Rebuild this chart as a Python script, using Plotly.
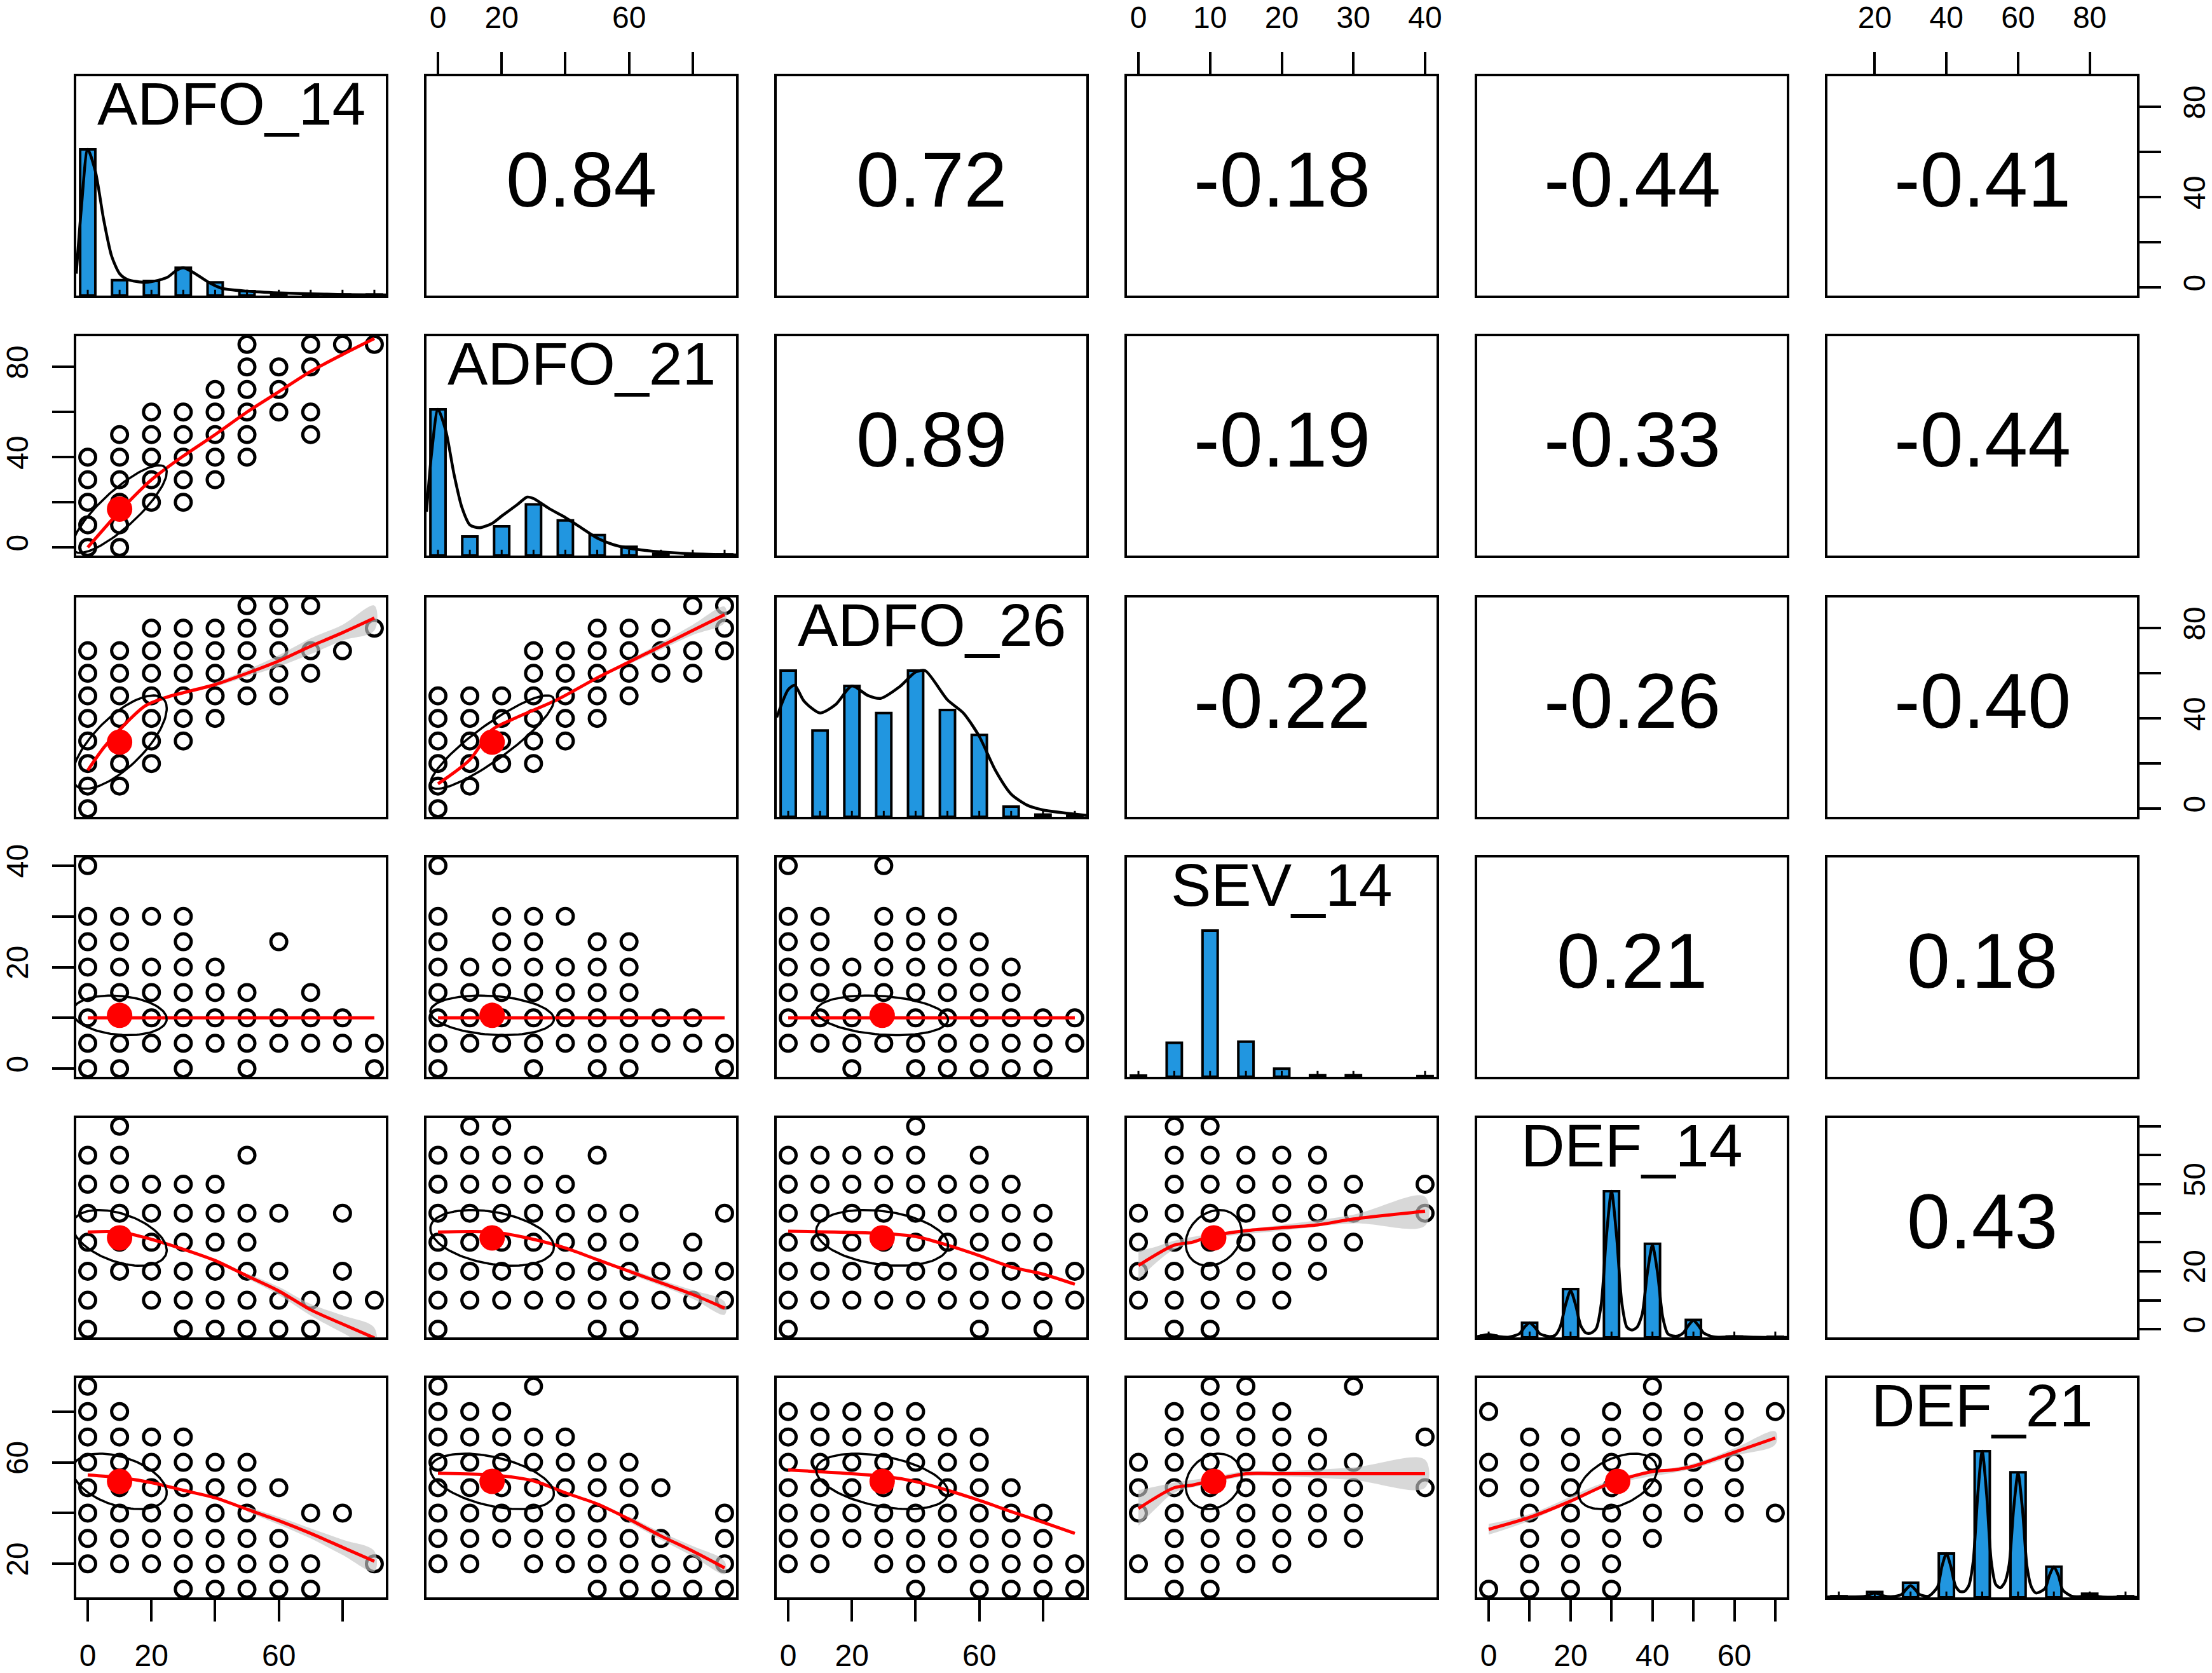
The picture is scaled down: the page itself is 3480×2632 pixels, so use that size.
import numpy as np
import plotly.graph_objects as go

# ---------------- data ----------------
VARS = ["ADFO_14", "ADFO_21", "ADFO_26", "SEV_14", "DEF_14", "DEF_21"]
VAR_MIN = [0, 0, 0, 0, 0, 10]
VAR_MAX = [90, 90, 90, 40, 70, 90]
MEANS = [10.0, 17.0, 29.5, 10.5, 31.5, 52.5]
SDS = [14.8, 19.4, 20.7, 3.9, 9.6, 10.9]

COR_ROW1 = [0.84, 0.72, -0.18, -0.44, -0.41]
COR_ROW2 = [0.89, -0.19, -0.33, -0.44]
COR_ROW3 = [-0.22, -0.26, -0.40]
COR_ROW4 = [0.21, 0.18]
COR_ROW5 = [0.43]

# axis ticks (values, labels); empty label = tick without label
TICKS_X = {
    0: ([0, 20, 40, 60, 80], ["0", "20", "", "60", ""]),
    1: ([0, 20, 40, 60, 80], ["0", "20", "", "60", ""]),
    2: ([0, 20, 40, 60, 80], ["0", "20", "", "60", ""]),
    3: ([0, 10, 20, 30, 40], ["0", "10", "20", "30", "40"]),
    4: ([0, 10, 20, 30, 40, 50, 60, 70], ["0", "", "20", "", "40", "", "60", ""]),
    5: ([20, 40, 60, 80], ["20", "40", "60", "80"]),
}
TICKS_Y = {
    0: ([0, 20, 40, 60, 80], ["0", "", "40", "", "80"]),
    1: ([0, 20, 40, 60, 80], ["0", "", "40", "", "80"]),
    2: ([0, 20, 40, 60, 80], ["0", "", "40", "", "80"]),
    3: ([0, 10, 20, 30, 40], ["0", "", "20", "", "40"]),
    4: ([0, 10, 20, 30, 40, 50, 60, 70], ["0", "", "20", "", "", "50", "", ""]),
    5: ([20, 40, 60, 80], ["20", "", "60", ""]),
}

# histograms (bar heights relative to tallest bar)
HIST_X_ADFO_14 = [0, 10, 20, 30, 40, 50, 60, 70, 80, 90]
HIST_H_ADFO_14 = [1.0, 0.105, 0.10, 0.19, 0.09, 0.03, 0.012, 0.007, 0.007, 0.007]
HIST_X_ADFO_21 = [0, 10, 20, 30, 40, 50, 60, 70, 80, 90]
HIST_H_ADFO_21 = [1.0, 0.13, 0.2, 0.35, 0.24, 0.14, 0.06, 0.012, 0.008, 0.008]
HIST_X_ADFO_26 = [0, 10, 20, 30, 40, 50, 60, 70, 80, 90]
HIST_H_ADFO_26 = [1.0, 0.59, 0.895, 0.71, 1.0, 0.73, 0.56, 0.07, 0.015, 0.008]
HIST_X_SEV_14 = [0, 5, 10, 15, 20, 25, 30, 40]
HIST_H_SEV_14 = [0.008, 0.233, 1.0, 0.24, 0.055, 0.01, 0.01, 0.005]
HIST_X_DEF_14 = [0, 10, 20, 30, 40, 50, 60, 70]
HIST_H_DEF_14 = [0.012, 0.1, 0.33, 1.0, 0.64, 0.12, 0.006, 0.004]
HIST_X_DEF_21 = [10, 20, 30, 40, 50, 60, 70, 80, 90]
HIST_H_DEF_21 = [0.008, 0.037, 0.1, 0.3, 1.0, 0.855, 0.21, 0.025, 0.008]

# density curves (relative to max)
DENS_X_ADFO_14 = [-3.6, -2, 0, 2.4, 5, 7.5, 10, 12.5, 18, 20, 25, 27.7, 30, 33, 38, 42, 50, 60, 70, 80, 93.6]
DENS_Y_ADFO_14 = [0.15, 0.6, 1.0, 0.85, 0.52, 0.27, 0.15, 0.11, 0.09, 0.095, 0.125, 0.17, 0.19, 0.16, 0.09, 0.05, 0.03, 0.018, 0.012, 0.007, 0.004]
DENS_X_ADFO_21 = [-3.6, -2, 0, 2.5, 5, 7.5, 10, 13, 17, 20, 25, 28, 30, 35, 40, 45, 50, 55, 60, 70, 80, 93.6]
DENS_Y_ADFO_21 = [0.3, 0.7, 1.0, 0.85, 0.56, 0.33, 0.21, 0.19, 0.22, 0.27, 0.35, 0.4, 0.39, 0.32, 0.26, 0.19, 0.12, 0.075, 0.05, 0.025, 0.012, 0.004]
DENS_X_ADFO_26 = [-3.6, 0, 2, 5, 10, 15, 20, 25, 29, 35, 40, 43, 50, 55, 60, 65, 70, 75, 80, 93.6]
DENS_Y_ADFO_26 = [0.68, 0.87, 0.9, 0.79, 0.71, 0.77, 0.895, 0.83, 0.81, 0.89, 0.99, 1.0, 0.8, 0.71, 0.55, 0.32, 0.155, 0.08, 0.047, 0.01]
DENS_X_DEF_14 = [-2.8, 0, 1.25, 2.5, 5, 7.5, 8.75, 10, 11.25, 12.5, 15, 16.25, 17.5, 18.75, 20, 21.25, 22.5, 23.75,
                 25, 26.25, 27.5, 28.75, 30, 31.25, 32.5, 33.75, 35, 36.25, 37.5, 38.75, 40, 41.25, 42.5, 43.75,
                 45, 46.25, 47.5, 48.75, 50, 51.25, 52.5, 55, 60, 65, 72.8]
DENS_Y_DEF_14 = [0.005, 0.02, 0.014, 0.006, 0.002, 0.025, 0.07, 0.1, 0.07, 0.025, 0.005, 0.015, 0.075, 0.22, 0.32, 0.22, 0.08, 0.03,
                 0.03, 0.06, 0.23, 0.69, 1.0, 0.69, 0.24, 0.07, 0.05, 0.07, 0.16, 0.44, 0.63, 0.44, 0.14, 0.025,
                 0.01, 0.01, 0.03, 0.08, 0.115, 0.08, 0.03, 0.003, 0.005, 0.001, 0.0]
DENS_X_DEF_21 = [6.8, 10, 12.5, 17.5, 20, 22.5, 25, 27.5, 28.75, 30, 31.25, 32.5, 35, 37.5, 38.75, 40, 41.25, 42.5, 43.75,
                 45, 46.25, 47.5, 48.75, 50, 51.25, 52.5, 53.75, 55, 56.25, 57.5, 58.75, 60, 61.25, 62.5, 63.75,
                 65, 67.5, 68.75, 70, 71.25, 72.5, 75, 77.5, 80, 82.5, 85, 90, 93.2]
DENS_Y_DEF_21 = [0.002, 0.006, 0.003, 0.008, 0.03, 0.01, 0.005, 0.02, 0.055, 0.08, 0.055, 0.02, 0.008, 0.07, 0.21, 0.3, 0.21, 0.08, 0.04,
                 0.04, 0.08, 0.25, 0.7, 1.0, 0.7, 0.25, 0.09, 0.065, 0.1, 0.22, 0.6, 0.85, 0.6, 0.21, 0.07,
                 0.03, 0.06, 0.15, 0.21, 0.15, 0.05, 0.008, 0.006, 0.02, 0.006, 0.001, 0.003, 0.0]

# scatter points: {y value: [x values]}
PTS_21 = {0: [0, 10], 10: [0, 10], 20: [0, 10, 20, 30], 30: [0, 10, 20, 30, 40], 40: [0, 10, 20, 30, 40, 50],
          50: [10, 20, 30, 40, 50, 70], 60: [20, 30, 40, 50, 60, 70], 70: [40, 50, 60], 80: [50, 60, 70], 90: [50, 70, 80, 90]}
PTS_31 = {0: [0], 10: [0, 10], 20: [0, 10, 20], 30: [0, 10, 20, 30], 40: [0, 10, 20, 30, 40],
          50: [0, 10, 20, 30, 40, 50, 60], 60: [0, 10, 20, 30, 40, 50, 60, 70], 70: [0, 10, 20, 30, 40, 50, 60, 70, 80],
          80: [20, 30, 40, 50, 60, 90], 90: [50, 60, 70]}
PTS_32 = {0: [0], 10: [0, 10], 20: [0, 10, 20, 30], 30: [0, 10, 20, 30, 40], 40: [0, 10, 20, 30, 40, 50],
          50: [0, 10, 20, 30, 40, 50, 60], 60: [30, 40, 50, 60, 70, 80], 70: [30, 40, 50, 60, 70, 80, 90],
          80: [50, 60, 70, 90], 90: [80, 90]}
PTS_41 = {0: [0, 10, 30, 50, 90], 5: [0, 10, 20, 30, 40, 50, 60, 70, 80, 90], 10: [0, 10, 20, 30, 40, 50, 60, 70, 80],
          15: [0, 10, 20, 30, 40, 50, 70], 20: [0, 10, 20, 30, 40], 25: [0, 10, 30, 60], 30: [0, 10, 20, 30], 40: [0]}
PTS_42 = {0: [0, 30, 50, 60, 90], 5: [0, 10, 20, 30, 40, 50, 60, 70, 80, 90], 10: [0, 10, 20, 30, 40, 50, 60, 70, 80],
          15: [0, 10, 20, 30, 40, 50, 60], 20: [0, 10, 20, 30, 40, 50, 60], 25: [0, 20, 30, 50, 60], 30: [0, 20, 30, 40], 40: [0]}
PTS_43 = {0: [20, 40, 50, 60, 70, 80], 5: [0, 10, 20, 30, 40, 50, 60, 70, 80, 90], 10: [0, 10, 20, 30, 40, 50, 60, 70, 80, 90],
          15: [0, 10, 20, 30, 40, 50, 60, 70], 20: [0, 10, 20, 30, 40, 50, 60, 70], 25: [0, 10, 30, 40, 50, 60],
          30: [0, 10, 30, 40, 50], 40: [0, 30]}
PTS_51 = {0: [0, 30, 40, 50, 60, 70], 10: [0, 20, 30, 40, 50, 60, 70, 80, 90], 20: [0, 10, 20, 30, 40, 50, 60, 80],
          30: [0, 10, 20, 30, 40, 50], 40: [0, 10, 20, 30, 40, 50, 60, 80], 50: [0, 10, 20, 30, 40], 60: [0, 10, 50], 70: [10]}
PTS_52 = {0: [0, 50, 60], 10: [0, 10, 20, 30, 40, 50, 60, 70, 80, 90], 20: [0, 10, 20, 30, 40, 50, 60, 70, 80, 90],
          30: [0, 10, 20, 30, 40, 50, 60, 80], 40: [0, 10, 20, 30, 40, 50, 60, 90], 50: [0, 10, 20, 30, 40],
          60: [0, 10, 20, 30, 50], 70: [10, 20]}
PTS_53 = {0: [0, 60, 80], 10: [0, 10, 20, 30, 40, 50, 60, 70, 80, 90], 20: [0, 10, 20, 30, 40, 50, 60, 70, 80, 90],
          30: [0, 10, 20, 30, 40, 50, 60, 70, 80], 40: [0, 10, 20, 30, 40, 50, 60, 70, 80],
          50: [0, 10, 20, 30, 40, 50, 60, 70], 60: [0, 10, 20, 30, 40, 60], 70: [40]}
PTS_54 = {0: [5, 10], 10: [0, 5, 10, 15, 20], 20: [0, 5, 10, 15, 20, 25], 30: [0, 5, 10, 15, 20, 25, 30],
          40: [0, 5, 10, 15, 20, 25, 30, 40], 50: [5, 10, 15, 20, 25, 30, 40], 60: [5, 10, 15, 20, 25], 70: [5, 10]}
PTS_61 = {10: [30, 40, 50, 60, 70], 20: [0, 10, 20, 30, 40, 50, 60, 70, 90], 30: [0, 10, 20, 30, 40, 50, 60],
          40: [0, 10, 20, 30, 40, 50, 70, 80], 50: [0, 10, 20, 30, 40, 50, 60], 60: [0, 10, 20, 30, 40, 50],
          70: [0, 10, 20, 30], 80: [0, 10], 90: [0]}
PTS_62 = {10: [50, 60, 70, 80, 90], 20: [0, 10, 30, 40, 50, 60, 70, 80, 90], 30: [0, 10, 20, 30, 40, 50, 60, 70, 90],
          40: [0, 10, 20, 30, 40, 50, 60, 90], 50: [0, 10, 20, 30, 40, 50, 60, 70], 60: [0, 10, 20, 30, 40, 50, 60],
          70: [0, 10, 20, 30, 40], 80: [0, 10, 20], 90: [0, 30]}
PTS_63 = {10: [40, 60, 70, 80, 90], 20: [0, 10, 30, 40, 50, 60, 70, 80, 90], 30: [0, 10, 20, 30, 40, 50, 60, 70, 80],
          40: [0, 10, 20, 30, 40, 50, 60, 70, 80], 50: [0, 10, 20, 30, 40, 50, 60, 70], 60: [0, 10, 20, 30, 40, 50, 60],
          70: [0, 10, 20, 30, 40, 50, 60], 80: [0, 10, 20, 30, 40]}
PTS_64 = {10: [5, 10], 20: [0, 5, 10, 15, 20], 30: [5, 10, 15, 20, 25, 30], 40: [0, 5, 10, 15, 20, 25, 30],
          50: [0, 5, 10, 15, 20, 25, 30, 40], 60: [0, 5, 10, 15, 20, 25, 30], 70: [5, 10, 15, 20, 25, 40],
          80: [5, 10, 15, 20], 90: [10, 15, 30]}
PTS_65 = {10: [0, 10, 20, 30], 20: [10, 20, 30], 30: [10, 20, 30, 40], 40: [10, 20, 30, 40, 50, 60, 70],
          50: [0, 10, 20, 30, 40, 50, 60], 60: [0, 10, 20, 30, 40, 50, 60], 70: [10, 20, 30, 40, 50, 60],
          80: [0, 30, 40, 50, 60, 70], 90: [40]}

# loess smoothers (x, y) and confidence bands (x, lo, hi)
LOESS_21 = [(0, 0), (10, 16), (20, 30), (30, 40.5), (40, 50), (50, 60), (60, 69), (70, 78), (80, 85.5), (90, 92.6)]
LOESS_31 = [(0, 17), (5, 27), (10, 35), (18, 45.5), (25, 49.5), (40, 55), (50, 60), (60, 65.5), (70, 72), (80, 78), (90, 84.5)]
LOESS_32 = [(0, 11), (10, 21.7), (17, 35), (24, 40), (37, 48), (50, 58), (60, 65), (70, 72), (80, 79), (90, 86)]
LOESS_41 = [(0, 10), (45, 10), (90, 10)]
LOESS_42 = [(0, 10), (45, 10), (90, 10)]
LOESS_43 = [(0, 10), (45, 10), (90, 10)]
LOESS_51 = [(0, 33.5), (10, 33.5), (20, 31), (30, 27.6), (40, 23.7), (50, 18.4), (60, 13.2), (70, 6.7), (80, 1.8), (90, -3)]
LOESS_52 = [(0, 33.5), (17, 33.5), (30, 31), (40, 28), (50, 24), (60, 20), (70, 16), (80, 12), (90, 7.3)]
LOESS_53 = [(0, 33.8), (30, 33), (40, 32), (50, 29), (60, 25.4), (70, 21.5), (80, 19), (90, 15.5)]
LOESS_54 = [(0, 22), (5, 29), (7.5, 30), (10, 32), (15, 34), (20, 35), (25, 36), (30, 38), (40, 40.7)]
LOESS_61 = [(0, 55), (10, 54), (20, 52), (30, 49), (40, 46), (50, 41.5), (60, 37), (70, 32), (80, 26.5), (90, 21)]
LOESS_62 = [(0, 55.7), (17, 55), (30, 52.7), (40, 48), (50, 43.6), (60, 37.6), (70, 31), (80, 25), (90, 18.4)]
LOESS_63 = [(0, 57), (30, 54.5), (40, 52.4), (50, 49), (60, 45), (70, 40.6), (80, 36.4), (90, 32)]
LOESS_64 = [(0, 41.8), (5, 50), (7.5, 51), (10, 52.7), (15, 55.5), (20, 55.5), (30, 55.5), (40, 55.5)]
LOESS_65 = [(0, 33.6), (10, 38.3), (20, 44.7), (30, 52), (40, 56.4), (45, 57), (50, 58.5), (60, 64), (70, 69.6)]

BAND_31 = [(40, 54, 56), (50, 58.5, 61.5), (60, 63, 68), (70, 68.5, 75.5), (80, 74.5, 81.5), (90, 79, 90)]
BAND_32 = [(60, 64, 66), (70, 70.5, 73.5), (80, 77, 81.5), (90, 82.5, 89.5)]
BAND_51 = [(50, 17.5, 19.3), (60, 11.8, 14.6), (70, 4.7, 8.7), (80, -1.2, 4.8), (90, -6.5, 0.5)]
BAND_52 = [(60, 19, 21), (70, 15, 17), (80, 10.5, 13.5), (90, 5, 9.5)]
BAND_54 = [(0, 17, 27), (2.5, 23, 28.5), (5, 27.5, 30.5), (10, 31.2, 32.8), (20, 34, 36), (30, 36.5, 39.5), (40, 35.7, 45.7)]
BAND_61 = [(50, 40.5, 42.5), (60, 35.5, 38.5), (70, 30, 34), (80, 23.5, 29.5), (90, 17, 25)]
BAND_62 = [(60, 36.5, 38.7), (70, 29.5, 32.5), (80, 23, 27), (90, 16, 21)]
BAND_64 = [(0, 35, 49), (2.5, 42, 50.5), (5, 48, 52), (10, 51.5, 54), (15, 54.5, 56.5), (20, 54.5, 56.5), (30, 53, 58), (40, 50, 61)]
BAND_65 = [(0, 31.5, 35.7), (10, 37, 39.6), (30, 51, 53), (50, 57.5, 59.5), (60, 62.5, 65.5), (70, 67, 72.2)]

# ---------------- layout / style ----------------
W, H = 3480, 2632
COL_X0 = [120, 671, 1222, 1773, 2324, 2875]
ROW_Y0 = [120, 529, 940, 1349, 1759, 2168]
PW, PH = 487, 345
FONT = "Liberation Sans, Arial, Helvetica, sans-serif"
BAR_COLOR = "#2196E0"

HIST_X = [HIST_X_ADFO_14, HIST_X_ADFO_21, HIST_X_ADFO_26, HIST_X_SEV_14, HIST_X_DEF_14, HIST_X_DEF_21]
HIST_H = [HIST_H_ADFO_14, HIST_H_ADFO_21, HIST_H_ADFO_26, HIST_H_SEV_14, HIST_H_DEF_14, HIST_H_DEF_21]
DENS = [(DENS_X_ADFO_14, DENS_Y_ADFO_14), (DENS_X_ADFO_21, DENS_Y_ADFO_21), (DENS_X_ADFO_26, DENS_Y_ADFO_26),
        None, (DENS_X_DEF_14, DENS_Y_DEF_14), (DENS_X_DEF_21, DENS_Y_DEF_21)]
PTS = {(1, 0): PTS_21, (2, 0): PTS_31, (2, 1): PTS_32, (3, 0): PTS_41, (3, 1): PTS_42, (3, 2): PTS_43,
       (4, 0): PTS_51, (4, 1): PTS_52, (4, 2): PTS_53, (4, 3): PTS_54,
       (5, 0): PTS_61, (5, 1): PTS_62, (5, 2): PTS_63, (5, 3): PTS_64, (5, 4): PTS_65}
LOESS = {(1, 0): LOESS_21, (2, 0): LOESS_31, (2, 1): LOESS_32, (3, 0): LOESS_41, (3, 1): LOESS_42, (3, 2): LOESS_43,
         (4, 0): LOESS_51, (4, 1): LOESS_52, (4, 2): LOESS_53, (4, 3): LOESS_54,
         (5, 0): LOESS_61, (5, 1): LOESS_62, (5, 2): LOESS_63, (5, 3): LOESS_64, (5, 4): LOESS_65}
BANDS = {(2, 0): BAND_31, (2, 1): BAND_32, (4, 0): BAND_51, (4, 1): BAND_52, (4, 3): BAND_54,
         (5, 0): BAND_61, (5, 1): BAND_62, (5, 3): BAND_64, (5, 4): BAND_65}
COR_ROWS = [COR_ROW1, COR_ROW2, COR_ROW3, COR_ROW4, COR_ROW5]


def cor(a, b):
    i, j = min(a, b), max(a, b)
    return COR_ROWS[i][j - i - 1]


def ext(v):
    lo, hi = VAR_MIN[v], VAR_MAX[v]
    d = (hi - lo) * 0.04
    return [lo - d, hi + d]


def kk(i, j):
    return i * 6 + j + 1


def xref(k):
    return "x" if k == 1 else f"x{k}"


def yref(k):
    return "y" if k == 1 else f"y{k}"


fig = go.Figure()
layout = dict()
annotations = []

TOP_AX = {(0, 1), (0, 3), (0, 5)}
BOT_AX = {(5, 0), (5, 2), (5, 4)}
LEFT_AX = {(1, 0), (3, 0), (5, 0)}
RIGHT_AX = {(0, 5), (2, 5), (4, 5)}

tick_common = dict(ticks="outside", ticklen=34, tickwidth=4, tickcolor="black", tickmode="array",
                   showticklabels=True, tickfont=dict(size=48, family=FONT, color="black"))

for i in range(6):
    for j in range(6):
        k = kk(i, j)
        x0, y0 = COL_X0[j], ROW_Y0[i]
        xa = dict(domain=[x0 / W, (x0 + PW) / W], range=ext(j), anchor=yref(k), showline=True, mirror=True,
                  linecolor="black", linewidth=4, showgrid=False, zeroline=False, ticks="", showticklabels=False,
                  fixedrange=True, automargin=False)
        ya = dict(domain=[1 - (y0 + PH) / H, 1 - y0 / H], range=([0, 1.5] if i == j else ext(i)), anchor=xref(k),
                  showline=True, mirror=True, linecolor="black", linewidth=4, showgrid=False, zeroline=False,
                  ticks="", showticklabels=False, fixedrange=True, automargin=False)
        if (i, j) in TOP_AX or (i, j) in BOT_AX:
            tv, tt = TICKS_X[j]
            xa.update(tick_common)
            xa.update(tickvals=tv, ticktext=tt, side=("top" if i == 0 else "bottom"),
                      ticklabelstandoff=(19 if i == 0 else 12))
        if (i, j) in LEFT_AX or (i, j) in RIGHT_AX:
            tv, tt = TICKS_Y[i]
            ya.update(tick_common)
            ya.update(tickvals=tv, ticktext=tt, side=("left" if j == 0 else "right"), tickangle=-90,
                      ticklabelstandoff=(19 if j == 0 else 11))
        layout["xaxis" if k == 1 else f"xaxis{k}"] = xa
        layout["yaxis" if k == 1 else f"yaxis{k}"] = ya

        xr, yr = xref(k), yref(k)
        if i == j:
            span = ext(j)[1] - ext(j)[0]
            fig.add_trace(go.Bar(x=HIST_X[j], y=HIST_H[j], width=0.049 * span, xaxis=xr, yaxis=yr,
                                 marker=dict(color=BAR_COLOR, line=dict(color="black", width=4))))
            rx, ry = [], []
            for v in HIST_X[j]:
                rx += [v, v, None]
                ry += [0, 0.04, None]
            fig.add_trace(go.Scatter(x=rx, y=ry, mode="lines", xaxis=xr, yaxis=yr,
                                     line=dict(color="black", width=3)))
            if DENS[j] is not None:
                fig.add_trace(go.Scatter(x=DENS[j][0], y=DENS[j][1], mode="lines", xaxis=xr, yaxis=yr,
                                         line=dict(color="black", width=4.5, shape="spline", smoothing=0.7)))
            annotations.append(dict(x=sum(ext(j)) / 2, y=1.30, xref=xr, yref=yr, text=VARS[j], showarrow=False,
                                    font=dict(size=95, family=FONT, color="black"), xanchor="center",
                                    yanchor="middle", yshift=3))
        elif j > i:
            # invisible placeholder so the panel (box + axes) is drawn
            fig.add_trace(go.Scatter(x=[MEANS[j]], y=[MEANS[i]], mode="markers", xaxis=xr, yaxis=yr,
                                     marker=dict(size=1, opacity=0), hoverinfo="skip"))
            annotations.append(dict(x=sum(ext(j)) / 2, y=sum(ext(i)) / 2, xref=xr, yref=yr,
                                    text=f"{cor(i, j):.2f}", showarrow=False,
                                    font=dict(size=122, family=FONT, color="black"),
                                    xanchor="center", yanchor="middle", yshift=10))
        else:
            pts = PTS[(i, j)]
            px = [x for yv, xs in pts.items() for x in xs]
            py = [yv for yv, xs in pts.items() for x in xs]
            fig.add_trace(go.Scatter(x=px, y=py, mode="markers", xaxis=xr, yaxis=yr,
                                     marker=dict(symbol="circle-open", size=25, color="black",
                                                 line=dict(color="black", width=5))))
            if (i, j) in BANDS:
                b = BANDS[(i, j)]
                bx = [t[0] for t in b] + [t[0] for t in b[::-1]]
                by = [t[2] for t in b] + [t[1] for t in b[::-1]]
                fig.add_trace(go.Scatter(x=bx, y=by, mode="lines", fill="toself", xaxis=xr, yaxis=yr,
                                         fillcolor="rgba(195,195,195,0.65)", line=dict(width=0, shape="spline")))
            lo = LOESS[(i, j)]
            fig.add_trace(go.Scatter(x=[t[0] for t in lo], y=[t[1] for t in lo], mode="lines", xaxis=xr, yaxis=yr,
                                     line=dict(color="red", width=5, shape="spline", smoothing=0.8)))
            # correlation ellipse (psych style): mean, sd and r
            r = cor(i, j)
            a, bb = np.sqrt(1 + r), np.sqrt(1 - r)
            ang = np.linspace(0, 2 * np.pi, 101)
            ex = MEANS[j] + SDS[j] * (np.cos(ang) * a - np.sin(ang) * bb) / np.sqrt(2)
            ey = MEANS[i] + SDS[i] * (np.cos(ang) * a + np.sin(ang) * bb) / np.sqrt(2)
            fig.add_trace(go.Scatter(x=ex, y=ey, mode="lines", xaxis=xr, yaxis=yr,
                                     line=dict(color="black", width=3.5)))
            fig.add_trace(go.Scatter(x=[MEANS[j]], y=[MEANS[i]], mode="markers", xaxis=xr, yaxis=yr,
                                     marker=dict(symbol="circle", size=40, color="red")))

fig.update_layout(**layout)
fig.update_layout(width=W, height=H, margin=dict(l=0, r=0, t=0, b=0, pad=0, autoexpand=False), showlegend=False,
                  plot_bgcolor="white", paper_bgcolor="white", annotations=annotations,
                  font=dict(family=FONT, color="black"))
fig.write_html("out.html", config={"displayModeBar": False, "staticPlot": True},
               post_script="document.body.style.margin='0px';document.body.style.padding='0px';"
                           "document.documentElement.style.overflow='hidden';")
